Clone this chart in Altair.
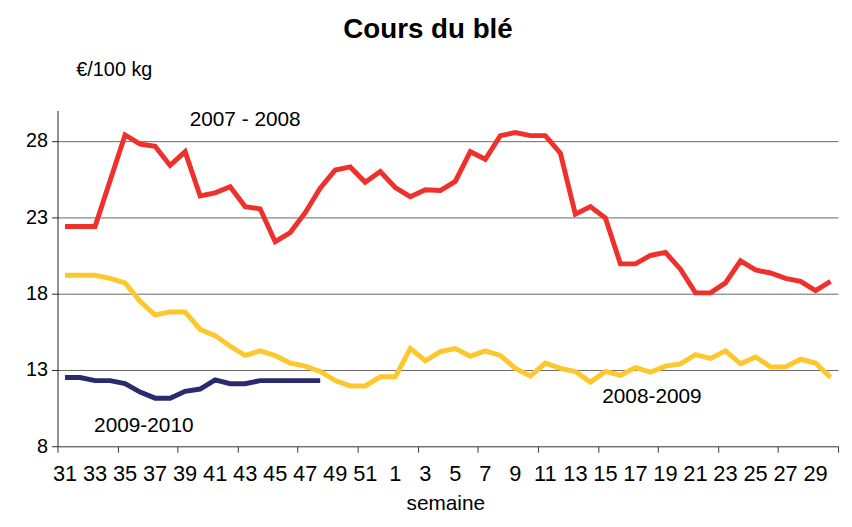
import altair as alt
import pandas as pd

# Weeks (categories), 2 seasons from week 31 to week 30
weeks = list(range(31, 53)) + list(range(1, 31))

# €/100 kg
s2007_2008 = [22.4, 22.4, 22.4, 25.4, 28.4, 27.8, 27.65, 26.4, 27.3, 24.4,
              24.6, 25.0, 23.7, 23.55, 21.4, 22.0, 23.3, 24.9, 26.1, 26.3,
              25.3, 26.0, 24.95, 24.35, 24.8, 24.75, 25.35, 27.3, 26.8, 28.35,
              28.55, 28.35, 28.35, 27.2, 23.2, 23.7, 22.95, 19.95, 19.95, 20.5,
              20.7, 19.6, 18.05, 18.05, 18.7, 20.15, 19.55, 19.35, 19.0, 18.8,
              18.2, 18.8]
s2008_2009 = [19.2, 19.2, 19.2, 19.0, 18.7, 17.5, 16.6, 16.8, 16.8, 15.65,
              15.25, 14.55, 13.95, 14.25, 13.95, 13.45, 13.25, 12.9, 12.3, 11.95,
              11.95, 12.55, 12.55, 14.4, 13.6, 14.2, 14.4, 13.9, 14.25, 13.95,
              13.1, 12.6, 13.45, 13.1, 12.9, 12.2, 12.9, 12.65, 13.15, 12.85,
              13.25, 13.4, 14.0, 13.75, 14.25, 13.4, 13.85, 13.2, 13.2, 13.7,
              13.45, 12.5]
s2009_2010 = [12.5, 12.5, 12.3, 12.3, 12.1, 11.55, 11.15, 11.15, 11.6, 11.75,
              12.35, 12.1, 12.1, 12.3, 12.3, 12.3, 12.3, 12.3]

series_names = ["2007 - 2008", "2008-2009", "2009-2010"]
series_values = [s2007_2008, s2008_2009, s2009_2010]
series_colors = ["#EE312C", "#FCC82E", "#2C2A6F"]

y_ticks = [8, 13, 18, 23, 28]

# series label positions (category index, value)
label_text = ["2007 - 2008", "2008-2009", "2009-2010"]
label_x = [12.5, 39.6, 5.75]
label_y = [29.4, 11.2, 9.3]

FONT = "Liberation Sans"
NARROW = "Liberation Sans Narrow, Arial Narrow, Liberation Sans"
W, H = 788, 339
n = len(weeks)

rows = []
for name, vals in zip(series_names, series_values):
    for i, v in enumerate(vals):
        rows.append({"series": name, "order": i, "x": i + 0.5, "value": v})
df = pd.DataFrame(rows)

xscale = alt.Scale(domain=[0, n], nice=False, zero=False)
yscale = alt.Scale(domain=[8, 30], nice=False, zero=False)

lines = alt.Chart(df).mark_line(strokeWidth=5, clip=False).encode(
    x=alt.X("x:Q", scale=xscale,
            axis=alt.Axis(values=list(range(n + 1)), labels=False, ticks=True,
                          tickSize=6, tickColor="#333", tickWidth=1,
                          grid=False, title=None, domainColor="#666")),
    y=alt.Y("value:Q", scale=yscale,
            axis=alt.Axis(values=y_ticks, grid=True, gridColor="#666",
                          tickSize=6, labelFontSize=20, labelFont=FONT,
                          labelColor="#000", labelPadding=4, domainColor="#222",
                          tickColor="#222", title=None)),
    color=alt.Color("series:N", scale=alt.Scale(domain=series_names, range=series_colors),
                    legend=None),
    order="order:Q",
)

# category labels: every other week, centred in its category
tl_df = pd.DataFrame({"x": [i + 0.5 for i in range(0, n, 2)],
                      "label": [str(weeks[i]) for i in range(0, n, 2)]})
xlabels = alt.Chart(tl_df).mark_text(font=NARROW, fontSize=22, color="#000",
                                     align="center", baseline="middle").encode(
    x=alt.X("x:Q", scale=xscale), y=alt.value(H + 28), text="label:N")

lab_df = pd.DataFrame({"label": label_text, "x": label_x, "value": label_y})
labels = alt.Chart(lab_df).mark_text(font=FONT, fontSize=21, color="#000",
                                     align="center", baseline="middle").encode(
    x=alt.X("x:Q", scale=xscale), y=alt.Y("value:Q", scale=yscale), text="label:N")

title = alt.Chart(pd.DataFrame({"t": ["Cours du blé"]})).mark_text(
    font=FONT, fontSize=28, fontWeight="bold", color="#000", align="center",
    baseline="middle").encode(x=alt.value(374), y=alt.value(-81), text="t:N")

unit = alt.Chart(pd.DataFrame({"t": ["€/100 kg"]})).mark_text(
    font=FONT, fontSize=20, color="#000", align="left", baseline="middle").encode(
    x=alt.value(19), y=alt.value(-41), text="t:N")

xtitle = alt.Chart(pd.DataFrame({"t": ["semaine"]})).mark_text(
    font=FONT, fontSize=21, color="#000", align="center", baseline="alphabetic").encode(
    x=alt.value(392), y=alt.value(403), text="t:N")

chart = alt.layer(lines, xlabels, labels, title, unit, xtitle).properties(
    width=W, height=H,
    padding={"left": 50, "top": 101, "right": 6, "bottom": 70},
    autosize="none",
    background="white",
).configure_view(stroke=None)

chart.save("out.html", embed_options={"renderer": "svg", "actions": False})
